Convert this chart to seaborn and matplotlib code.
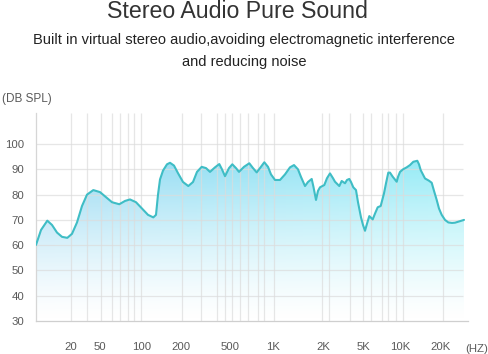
import numpy as np
import matplotlib
matplotlib.use("Agg")
import matplotlib.pyplot as plt
import seaborn as sns
from matplotlib.colors import to_rgb

# ---- data (x = position along the frequency axis, y = dB SPL) ----
pos = [0, 5, 11.3, 16, 21, 26, 31.3, 36, 41, 46, 51, 57.3, 64, 70, 76, 83.3,
       89, 94, 100, 106, 112, 117.3, 120, 122, 124, 127, 131, 134, 138, 142,
       147, 152.3, 157, 161, 165.7, 170, 174, 179, 183.3, 186, 189, 193,
       196.3, 200, 203, 208, 213.3, 217, 220.7, 224, 228.3, 232, 235, 239,
       244, 249, 254, 258, 262, 265, 269, 272, 275.7, 277.5, 280, 282, 284,
       288.3, 291, 294, 297, 299, 303.3, 305.7, 309, 311, 313.3, 315, 317.3,
       320, 322, 325, 327, 329, 331, 333.3, 336.7, 339, 341.7, 344.7, 348,
       350, 352.3, 354, 356.7, 360.7, 362, 364, 367, 370.7, 374, 377.3, 381.3,
       383, 384.7, 389, 393, 395.7, 398, 400.7, 403, 405.7, 409, 412.3, 416,
       419, 424, 428]
spl = [60.1, 66, 69.7, 68, 65, 63.3, 62.9, 64.5, 69, 75.5, 80, 81.8, 81, 79,
       77, 76.2, 77.5, 78.1, 77, 74.5, 72, 71.0, 72, 80, 86, 89.5, 92, 92.6,
       91.5, 88.5, 85, 83.4, 85, 89, 91.0, 90.5, 89.0, 90.8, 92.1, 90, 87.3,
       90.5, 92, 90.5, 89, 91, 92.4, 90.5, 88.8, 90.5, 92.8, 91, 88, 85.8,
       85.8, 88, 90.8, 91.7, 90, 87, 83.4, 85, 86.2, 83, 77.9, 81.5, 82.9,
       83.8, 86.5, 88.4, 86.5, 85.1, 83.4, 85.4, 84.5, 85.8, 86.2, 85, 82.9,
       81.8, 77, 71, 68, 65.7, 68.5, 71.5, 70.2, 72.5, 75.0, 75.5, 80.5, 84.5,
       88.7, 88.7, 87.1, 85.1, 87, 89.0, 90, 90.8, 91.7, 93.0, 93.4, 92, 89.7,
       86.4, 85.5, 84.7, 81.5, 77.9, 74.5, 72.0, 70, 69.0, 68.8, 68.9, 69.5,
       70.0]

grid_pos = [34.7, 51.3, 64.7, 75.7, 84, 91.7, 98.3, 105, 145.7, 164.7, 180.7,
            189, 196.3, 204, 211.7, 221.7, 228.3, 238.3, 285.7, 293, 314,
            326.7, 335, 345.7, 352.3, 360.3, 367, 406.7]
tick_pos = [34.7, 64, 105.7, 145, 194, 237, 287, 327.5, 364.5, 404.7]
tick_labels = ["20", "50", "100", "200", "500", "1K", "2K", "5K", "10K", "20K"]
y_ticks = [30, 40, 50, 60, 70, 80, 90, 100]

sns.set_theme(style="white")
plt.rcParams['font.family'] = ['Liberation Sans', 'DejaVu Sans']

W, H = 488, 354
fig = plt.figure(figsize=(W / 100, H / 100), dpi=100)
ax = fig.add_axes([36 / W, 33 / H, 432 / W, 208 / H])
ymin, ymax = 30, 112.3
ax.set_xlim(0, 432)
ax.set_ylim(ymin, ymax)

# gradient fill under the curve
poly = ax.fill_between(pos, spl, ymin, color='none', lw=0)
nh, nw = 256, 256
xs = np.linspace(0, 1, nw)
ys = np.linspace(0, 1, nh)
c_left = np.array(to_rgb('#8fd4f1'))
c_right = np.array(to_rgb('#8cecf6'))
img = np.zeros((nh, nw, 4))
img[:, :, :3] = (c_left[None, None, :] * (1 - xs)[None, :, None]
                 + c_right[None, None, :] * xs[None, :, None])
img[:, :, 3] = (ys ** 1.35)[:, None] * 0.95
im = ax.imshow(img, origin='lower', extent=(0, max(pos), ymin, 95),
               aspect='auto', zorder=1, interpolation='bilinear')
im.set_clip_path(poly.get_paths()[0], transform=ax.transData)

# grid
ax.vlines(grid_pos, ymin, ymax, color='#dcdcdc', lw=0.9, alpha=0.7, zorder=2)
ax.hlines(y_ticks[1:], 0, 427, color='#dcdcdc', lw=0.9, alpha=0.7, zorder=2)

# curve
sns.lineplot(x=pos, y=spl, ax=ax, color='#3fbdc5', lw=1.5, zorder=3)

for s in ['top', 'right']:
    ax.spines[s].set_visible(False)
ax.spines['left'].set_color('#d6d6d6')
ax.spines['bottom'].set_color('#cfcfcf')
ax.spines['left'].set_linewidth(0.9)
ax.spines['bottom'].set_linewidth(0.9)

ax.set_xticks(tick_pos, tick_labels)
ax.set_yticks(y_ticks)
ax.tick_params(axis='both', length=0, labelsize=8.2, labelcolor='#5a5a5a')
ax.tick_params(axis='x', pad=15)
ax.tick_params(axis='y', pad=8.6)
ax.grid(False)

# texts
fig.text(237.5 / W, 1 - 18.3 / H, 'Stereo Audio Pure Sound', ha='center',
         va='baseline', fontsize=16.7, color='#333333')
fig.text(244 / W, 1 - 44 / H,
         'Built in virtual stereo audio,avoiding electromagnetic interference',
         ha='center', va='baseline', fontsize=10.55, color='#222222')
fig.text(244 / W, 1 - 66 / H, 'and reducing noise', ha='center',
         va='baseline', fontsize=10.55, color='#222222')
fig.text(2 / W, 1 - 102 / H, '(DB SPL)', ha='left', va='baseline',
         fontsize=8.5, color='#5a5a5a')
fig.text(465 / W, 1 - 351.5 / H, '(HZ)', ha='left', va='baseline',
         fontsize=8.2, color='#5a5a5a')

fig.savefig('out.png', dpi=100)
